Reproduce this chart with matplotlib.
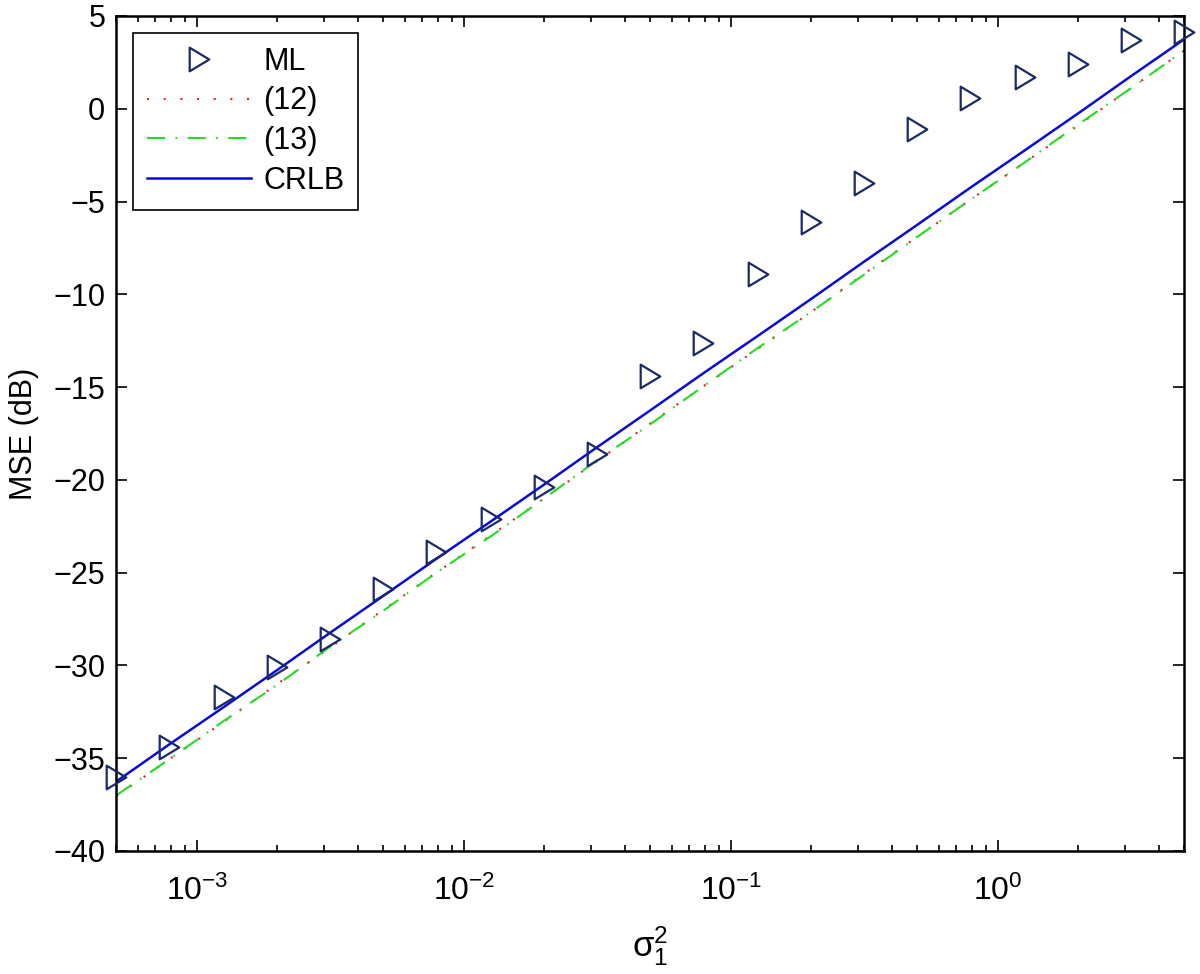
import matplotlib
matplotlib.use("Agg")
import matplotlib.pyplot as plt
from matplotlib.path import Path

plt.rcParams['font.family'] = ['Liberation Sans', 'DejaVu Sans']
plt.rcParams['mathtext.fontset'] = 'custom'
plt.rcParams['mathtext.rm'] = 'Liberation Sans'
plt.rcParams['mathtext.it'] = 'Liberation Sans'
plt.rcParams['mathtext.default'] = 'regular'

# sigma_1^2 (eje x, escala log)
sigma2 = [5.0e-4, 7.9e-4, 1.26e-3, 2.0e-3, 3.15e-3, 5.0e-3, 7.9e-3, 1.26e-2, 2.0e-2, 3.15e-2,
          5.0e-2, 7.9e-2, 0.126, 0.2, 0.315, 0.5, 0.79, 1.26, 2.0, 3.15, 5.0]

# MSE en dB
mse_ml = [-36.0, -34.4, -31.7, -30.1, -28.6, -25.9, -23.9, -22.1, -20.4, -18.6,
          -14.4, -12.6, -8.9, -6.1, -4.0, -1.1, 0.6, 1.7, 2.4, 3.7, 4.15]
mse_12 = [-37.05, -35.05, -33.05, -31.0, -29.05, -27.0, -25.0, -23.0, -21.0, -19.0,
          -16.95, -14.95, -12.95, -10.95, -8.9, -6.9, -4.9, -2.9, -0.9, 1.1, 3.15]
mse_13 = [-37.0, -35.05, -33.0, -31.05, -29.0, -27.05, -25.0, -23.05, -21.0, -18.95,
          -17.0, -14.95, -12.9, -10.95, -8.95, -6.9, -4.9, -2.9, -0.85, 1.1, 3.15]
crlb = [-36.25, -34.25, -32.25, -30.25, -28.25, -26.25, -24.25, -22.25, -20.25, -18.25,
        -16.25, -14.25, -12.25, -10.25, -8.25, -6.25, -4.25, -2.25, -0.25, 1.75, 3.75]

y_ticks = [-40, -35, -30, -25, -20, -15, -10, -5, 0, 5]

# triangulo tipo matlab (mas estrecho que '>')
tri = Path([(-0.83, -1.0), (0.83, 0.0), (-0.83, 1.0), (-0.83, -1.0)],
           [Path.MOVETO, Path.LINETO, Path.LINETO, Path.CLOSEPOLY])

fig = plt.figure(figsize=(12, 9.74), dpi=100)
ax = fig.add_axes([0.097, 0.1263, 0.89, 0.8573])

ax.plot(sigma2, mse_ml, linestyle='none', marker=tri, markersize=17, markerfacecolor='none',
        markeredgecolor='#1b2a66', markeredgewidth=1.6, label='ML', clip_on=False, zorder=3)
ax.plot(sigma2, mse_12, color='#ee2222', linestyle=(0, (1, 7)), linewidth=1.5, label='(12)')
ax.plot(sigma2, mse_13, color='#22dd22', linestyle=(0, (8.7, 5, 0.8, 5)), linewidth=1.5, label='(13)')
ax.plot(sigma2, crlb, color='#0a0ad8', linewidth=1.8, label='CRLB')

ax.set_xscale('log')
ax.set_xlim(5e-4, 5)
ax.set_ylim(-40, 5)
ax.set_yticks(y_ticks)

ax.tick_params(which='both', direction='in', top=True, right=True, labelsize=22)
ax.tick_params(which='major', length=8, width=1.2)
ax.tick_params(which='minor', length=4, width=1.2)
ax.tick_params(axis='x', which='major', pad=18, labelsize=23)
ax.tick_params(axis='y', which='major', pad=8)
for s in ax.spines.values():
    s.set_linewidth(1.8)

ax.set_xlabel(r'$\sigma_1^2$', fontsize=25, labelpad=12)
ax.set_ylabel('MSE (dB)', fontsize=22, labelpad=10)

leg = ax.legend(loc='upper left', fontsize=22, fancybox=False, edgecolor='black',
                framealpha=1, handlelength=3.4, handletextpad=0.4, labelspacing=0.32,
                borderaxespad=0.55, borderpad=0.45)
leg.get_frame().set_linewidth(1.2)

fig.savefig('out.png', dpi=100)
